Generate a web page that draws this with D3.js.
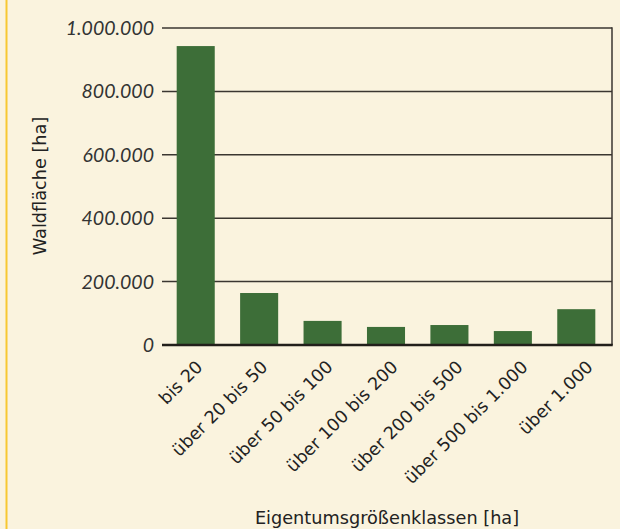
<!DOCTYPE html>
<html>
<head>
<meta charset="utf-8">
<script src="https://cdn.jsdelivr.net/npm/d3@7"></script>
<style>
  html, body { margin: 0; padding: 0; background: #faf3de; }
  #chart { width: 620px; height: 529px; }
  .tick-label { font-family: Lato, sans-serif; font-style: italic; font-size: 19.5px; fill: #333; }
  .cat-label { font-family: "DejaVu Sans", sans-serif; font-size: 17.5px; fill: #222; }
  .axis-title { font-family: "DejaVu Sans", sans-serif; font-size: 17.7px; fill: #222; }
</style>
</head>
<body>
<div id="chart"></div>
<script>
// Werte
var categories = ["bis 20", "über 20 bis 50", "über 50 bis 100", "über 100 bis 200",
                  "über 200 bis 500", "über 500 bis 1.000", "über 1.000"];
var areaValues = [943000, 164000, 76000, 57000, 63000, 44000, 113000];
var yTicks = [0, 200000, 400000, 600000, 800000, 1000000];

var width = 620, height = 529;
var plot = { left: 162, right: 612, top: 28, bottom: 345 };

var svg = d3.select('#chart')
    .append('svg')
    .attr('width', width)
    .attr('height', height);

svg.append('rect')
    .attr('width', width)
    .attr('height', height)
    .attr('fill', '#faf3de');

// gelbe Randlinie links
svg.append('line')
    .attr('x1', 6.5).attr('x2', 6.5)
    .attr('y1', 0).attr('y2', height)
    .attr('stroke', '#f7c830')
    .attr('stroke-width', 2);

var xScale = d3.scaleBand()
    .domain(categories)
    .range([164, 608])
    .paddingInner(0.4)
    .paddingOuter(0.2);

var yScale = d3.scaleLinear()
    .domain([0, 1000000])
    .range([plot.bottom, plot.top]);

var fmt = function(v) { return d3.format(",")(v).replace(/,/g, "."); };

// Gitterlinien
svg.selectAll('.grid')
    .data(yTicks.filter(function(d) { return d > 0; }))
    .enter()
    .append('line')
    .attr('class', 'grid')
    .attr('x1', plot.left)
    .attr('x2', plot.right)
    .attr('y1', function(d) { return yScale(d); })
    .attr('y2', function(d) { return yScale(d); })
    .attr('stroke', '#3a3630')
    .attr('stroke-width', 1.5);

// rechte Rahmenlinie
svg.append('line')
    .attr('x1', plot.right).attr('x2', plot.right)
    .attr('y1', yScale(1000000) - 0.75).attr('y2', plot.bottom)
    .attr('stroke', '#3a3630')
    .attr('stroke-width', 1.5);

svg.selectAll('.bar')
    .data(areaValues)
    .enter()
    .append('rect')
    .attr('class', 'bar')
    .attr('x', function(d, i) { return xScale(categories[i]); })
    .attr('y', function(d) { return yScale(d); })
    .attr('width', xScale.bandwidth())
    .attr('height', function(d) { return plot.bottom - yScale(d); })
    .attr('fill', '#3d6e38');

// Nulllinie
svg.append('line')
    .attr('x1', plot.left).attr('x2', plot.right + 0.75)
    .attr('y1', plot.bottom).attr('y2', plot.bottom)
    .attr('stroke', '#221f1a')
    .attr('stroke-width', 2.5);

svg.selectAll('.tick-label')
    .data(yTicks)
    .enter()
    .append('text')
    .attr('class', 'tick-label')
    .attr('x', 154)
    .attr('y', function(d) { return yScale(d); })
    .attr('dy', '0.36em')
    .attr('text-anchor', 'end')
    .text(fmt);

svg.selectAll('.cat-label')
    .data(categories)
    .enter()
    .append('text')
    .attr('class', 'cat-label')
    .attr('text-anchor', 'end')
    .attr('transform', function(d, i) {
        var cx = xScale(d) + xScale.bandwidth() / 2 + 8 + i * 1.6;
        return 'translate(' + cx + ',' + (plot.bottom + 23) + ') rotate(-45)';
    })
    .text(function(d) { return d; });

svg.append('text')
    .attr('class', 'axis-title')
    .attr('transform', 'translate(46,186) rotate(-90)')
    .attr('text-anchor', 'middle')
    .text('Waldfläche [ha]');

svg.append('text')
    .attr('class', 'axis-title')
    .attr('x', 387)
    .attr('y', 524)
    .attr('text-anchor', 'middle')
    .text('Eigentumsgrößenklassen [ha]');
</script>
</body>
</html>
